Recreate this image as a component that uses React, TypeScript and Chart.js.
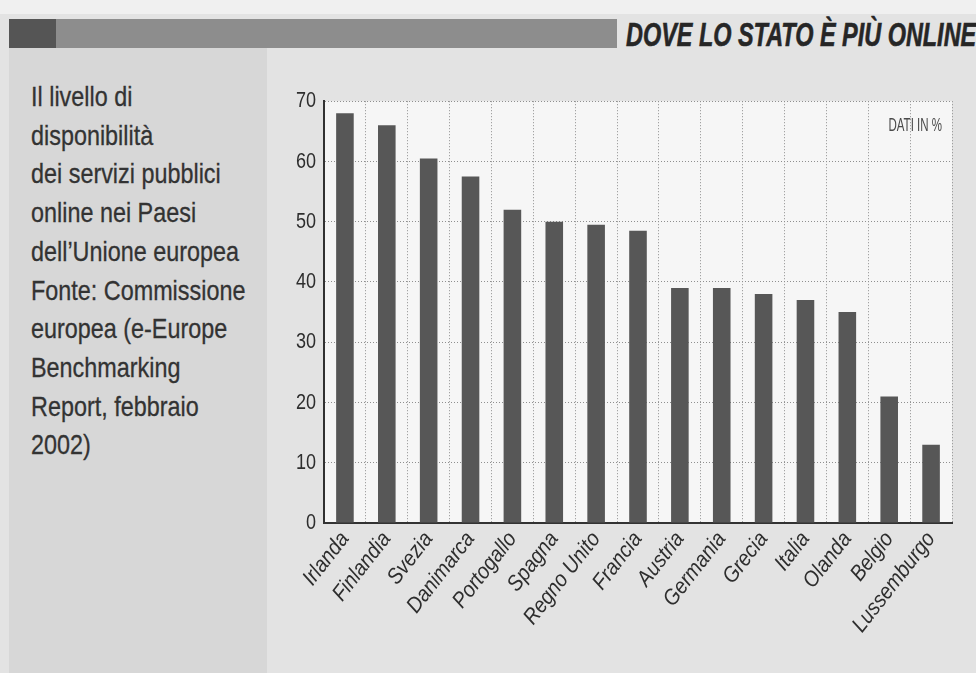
import React, { useEffect, useRef } from "react";
import { Chart, registerables } from "chart.js";

Chart.register(...registerables);

const categories = [
  "Irlanda",
  "Finlandia",
  "Svezia",
  "Danimarca",
  "Portogallo",
  "Spagna",
  "Regno Unito",
  "Francia",
  "Austria",
  "Germania",
  "Grecia",
  "Italia",
  "Olanda",
  "Belgio",
  "Lussemburgo",
];
const values = [68, 66, 60.5, 57.5, 52, 50, 49.5, 48.5, 39, 39, 38, 37, 35, 21, 13];
const yTicks = [0, 10, 20, 30, 40, 50, 60, 70];
const title = "DOVE LO STATO È PIÙ ONLINE";
const unitLabel = "DATI IN %";
const noteLines = [
  "Il livello di",
  "disponibilità",
  "dei servizi pubblici",
  "online nei Paesi",
  "dell’Unione europea",
  "Fonte: Commissione",
  "europea (e-Europe",
  "Benchmarking",
  "Report, febbraio",
  "2002)",
];

const FONT = '"Liberation Sans", Arial, sans-serif';
const CONDENSE = 0.82;
const CONDENSE_ITALIC = 0.9;

export default function App() {
  const ref = useRef<HTMLCanvasElement | null>(null);

  useEffect(() => {
    if (!ref.current) return;
    const ctx0 = ref.current.getContext("2d") as any;
    if (ctx0 && !ctx0.__condensed) {
      const orig = ctx0.fillText.bind(ctx0);
      ctx0.fillText = (t: string, x: number, y: number, mw?: number) => {
        if (mw !== undefined && mw !== null) return orig(t, x, y, mw);
        const w = ctx0.measureText(t).width;
        const k = String(ctx0.font).includes("italic") ? CONDENSE_ITALIC : CONDENSE;
        return orig(t, x, y, Math.max(1, w * k));
      };
      ctx0.__condensed = true;
    }
    const bgPlugin = {
      id: "plotBg",
      beforeDraw(chart: any) {
        const { ctx, chartArea } = chart;
        ctx.save();
        ctx.fillStyle = "#f6f6f6";
        ctx.fillRect(chartArea.left, chartArea.top, chartArea.right - chartArea.left, chartArea.bottom - chartArea.top);
        ctx.restore();
      },
      afterDraw(chart: any) {
        const { ctx, chartArea } = chart;
        ctx.save();
        ctx.fillStyle = "#4a4a4a";
        ctx.font = `18px ${FONT}`;
        ctx.textAlign = "right";
        ctx.textBaseline = "middle";
        const w = ctx.measureText(unitLabel).width;
        ctx.fillText(unitLabel, chartArea.right - 10, chartArea.top + 25, w * 0.64);
        ctx.restore();
      },
    };
    const chart = new Chart(ref.current, {
      type: "bar",
      data: {
        labels: categories,
        datasets: [
          {
            data: values,
            backgroundColor: "#575757",
            borderWidth: 0,
            barPercentage: 0.42,
            categoryPercentage: 1,
          },
        ],
      },
      options: {
        animation: false,
        responsive: false,
        maintainAspectRatio: false,
        layout: { padding: { top: 18, right: 24, bottom: 0, left: 0 } },
        plugins: { legend: { display: false }, tooltip: { enabled: false } },
        scales: {
          x: {
            grid: { color: "#8f8f8f", lineWidth: 1, drawTicks: false, offset: true },
            border: { display: true, color: "#333", width: 2, dash: [1, 2] },
            ticks: {
              color: "#2e2e2e",
              font: { family: FONT, size: 22, style: "italic" },
              minRotation: 52,
              maxRotation: 52,
              autoSkip: false,
              padding: 4,
            },
            afterFit(axis: any) {
              axis.height = 150;
            },
          },
          y: {
            min: 0,
            max: 70,
            grid: { color: "#8f8f8f", lineWidth: 1, drawTicks: false },
            border: { display: true, color: "#333", width: 2, dash: [1, 2] },
            ticks: {
              color: "#2e2e2e",
              font: { family: FONT, size: 22 },
              padding: 8,
            },
            afterBuildTicks(axis: any) {
              axis.ticks = yTicks.map((v) => ({ value: v }));
            },
            afterFit(axis: any) {
              axis.width = 54;
            },
          },
        },
      },
      plugins: [bgPlugin],
    });
    return () => chart.destroy();
  }, []);

  return (
    <div
      style={{
        position: "fixed",
        left: 0,
        top: 0,
        width: 976,
        height: 673,
        background: "#e3e3e3",
        overflow: "hidden",
        fontFamily: FONT,
      }}
    >
      <div style={{ position: "absolute", left: 0, top: 0, width: 976, height: 14, background: "#f0f0f0" }} />
      <div style={{ position: "absolute", left: 9, top: 48, width: 258, height: 625, background: "#d7d7d7" }} />
      <div style={{ position: "absolute", left: 9, top: 19, width: 47, height: 29, background: "#555" }} />
      <div style={{ position: "absolute", left: 56, top: 19, width: 561, height: 29, background: "#8d8d8d" }} />
      <div
        style={{
          position: "absolute",
          left: 626,
          top: 18,
          fontSize: 33,
          lineHeight: "33px",
          fontWeight: "bold",
          fontStyle: "italic",
          color: "#262626",
          whiteSpace: "nowrap",
          transform: "scaleX(0.71)",
          transformOrigin: "left top",
          WebkitTextStroke: "0.6px #262626",
        }}
      >
        {title}
      </div>
      <div
        style={{
          position: "absolute",
          left: 31,
          top: 78,
          fontSize: 28,
          lineHeight: "38.7px",
          color: "#333",
          whiteSpace: "nowrap",
          transform: "scaleX(0.835)",
          transformOrigin: "left top",
          WebkitTextStroke: "0.3px #333",
        }}
      >
        {noteLines.map((l, i) => (
          <div key={i}>{l}</div>
        ))}
      </div>
      <canvas
        ref={ref}
        width={706}
        height={593}
        style={{ position: "absolute", left: 270, top: 80, width: 706, height: 593 }}
      />
    </div>
  );
}
